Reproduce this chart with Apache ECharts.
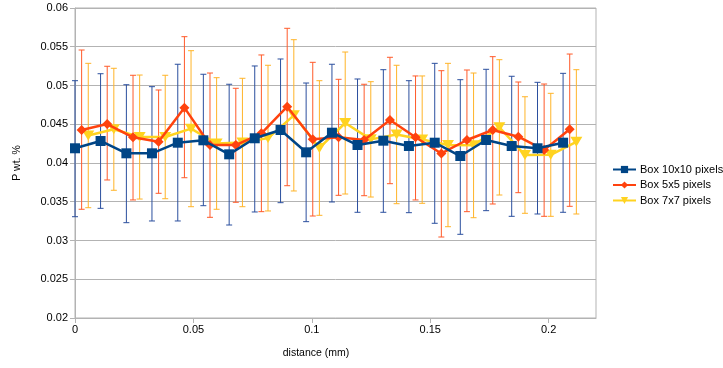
<!DOCTYPE html>
<html>
<head>
<meta charset="utf-8">
<script src="https://cdn.jsdelivr.net/npm/echarts@6/dist/echarts.min.js"></script>
<style>
html,body{margin:0;padding:0;background:#fff;}
#c{width:723px;height:368px;}
</style>
</head>
<body>
<div id="c"></div>
<script>
// ---- data ----
const seriesNames = ['Box 10x10 pixels', 'Box 5x5 pixels', 'Box 7x7 pixels'];

const xBlue   = [0, 0.0108, 0.0217, 0.0325, 0.0434, 0.0542, 0.0651, 0.0759, 0.0868, 0.0976, 0.1085, 0.1193, 0.1302, 0.1410, 0.1519, 0.1627, 0.1736, 0.1844, 0.1953, 0.2061];
const blueMean = [0.0419, 0.04284, 0.04125, 0.04125, 0.04262, 0.04293, 0.04112, 0.04319, 0.04426, 0.04138, 0.04391, 0.04232, 0.04288, 0.04219, 0.04262, 0.0409, 0.04297, 0.04219, 0.0419, 0.04262];
const blueHigh = [0.05062, 0.05152, 0.0501, 0.04985, 0.05274, 0.05145, 0.05016, 0.05252, 0.05342, 0.05032, 0.05274, 0.05084, 0.05204, 0.05062, 0.05286, 0.05075, 0.05209, 0.05119, 0.05041, 0.05157];
const blueLow  = [0.03307, 0.03415, 0.0323, 0.03252, 0.03252, 0.03449, 0.032, 0.03368, 0.03488, 0.03243, 0.03497, 0.03364, 0.03364, 0.03359, 0.03222, 0.0308, 0.03385, 0.03312, 0.03342, 0.03364];

const xRed    = [0.0028, 0.0136, 0.0245, 0.0353, 0.0462, 0.0570, 0.0679, 0.0787, 0.0896, 0.1004, 0.1113, 0.1221, 0.1330, 0.1438, 0.1547, 0.1655, 0.1764, 0.1872, 0.1981, 0.2089];
const redMean = [0.04426, 0.04503, 0.04332, 0.04275, 0.04714, 0.04232, 0.04232, 0.04383, 0.04726, 0.04306, 0.04332, 0.04297, 0.04555, 0.04332, 0.04123, 0.04297, 0.04426, 0.04339, 0.04168, 0.04435];
const redHigh = [0.05458, 0.05248, 0.05132, 0.04942, 0.0563, 0.05161, 0.04964, 0.05394, 0.05738, 0.05299, 0.0508, 0.05016, 0.05364, 0.05123, 0.05191, 0.052, 0.05372, 0.05045, 0.05019, 0.05406];
const redLow  = [0.03403, 0.03781, 0.03523, 0.03609, 0.0381, 0.03299, 0.03493, 0.03372, 0.03707, 0.03316, 0.03583, 0.03578, 0.03733, 0.03523, 0.03045, 0.03372, 0.03471, 0.03617, 0.03312, 0.03441];

const xYellow    = [0.0056, 0.0164, 0.0273, 0.0381, 0.0490, 0.0598, 0.0707, 0.0815, 0.0924, 0.1032, 0.1141, 0.1249, 0.1358, 0.1466, 0.1575, 0.1683, 0.1792, 0.1900, 0.2009, 0.2117];
const yellowMean = [0.04355, 0.04435, 0.04335, 0.04336, 0.04443, 0.04252, 0.04265, 0.04321, 0.04615, 0.04194, 0.04516, 0.04305, 0.04368, 0.04302, 0.04232, 0.04228, 0.0446, 0.04103, 0.04106, 0.04273];
const yellowHigh = [0.05286, 0.05222, 0.05135, 0.05132, 0.05449, 0.05101, 0.05093, 0.05261, 0.05591, 0.05062, 0.05432, 0.05049, 0.05261, 0.05123, 0.05286, 0.05161, 0.05333, 0.04855, 0.04899, 0.05204];
const yellowLow  = [0.03423, 0.03648, 0.03535, 0.03539, 0.03436, 0.03403, 0.03436, 0.03381, 0.03639, 0.03325, 0.036, 0.03561, 0.03475, 0.0348, 0.03178, 0.03294, 0.03587, 0.03351, 0.03312, 0.03342];

const yTicks = { min: 0.02, max: 0.06, step: 0.005 };
const xTicks = { min: 0, max: 0.22, step: 0.05 };

// ---- chart ----
const FONT = '"Liberation Sans", Arial, sans-serif';
const colors = ['#004586', '#ff420e', '#ffd320'];
const barColors = ['#2b4f9e', '#ff5a2a', '#ffb428'];

function zip2(xs, ys) { return xs.map((x, i) => [x, ys[i]]); }
function zip3(xs, lo, hi) { return xs.map((x, i) => [x, lo[i], hi[i]]); }

function errRender(color) {
  return function (params, api) {
    const x = api.value(0), lo = api.value(1), hi = api.value(2);
    const a = api.coord([x, hi]), b = api.coord([x, lo]);
    const w = 3;
    const st = { stroke: color, lineWidth: 1 };
    return {
      type: 'group',
      children: [
        { type: 'line', shape: { x1: a[0], y1: a[1], x2: b[0], y2: b[1] }, style: st },
        { type: 'line', shape: { x1: a[0] - w, y1: a[1], x2: a[0] + w, y2: a[1] }, style: st },
        { type: 'line', shape: { x1: b[0] - w, y1: b[1], x2: b[0] + w, y2: b[1] }, style: st }
      ]
    };
  };
}

const chart = echarts.init(document.getElementById('c'), null, { renderer: 'canvas' });

const lineData = [zip2(xBlue, blueMean), zip2(xRed, redMean), zip2(xYellow, yellowMean)];
const errData = [zip3(xBlue, blueLow, blueHigh), zip3(xRed, redLow, redHigh), zip3(xYellow, yellowLow, yellowHigh)];
const symbols = ['rect', 'diamond', 'triangle'];
const symSizes = [10, 10, [12, 10]];
const symRot = [0, 0, 180];

const series = [];
for (let i = 0; i < 3; i++) {
  series.push({
    type: 'custom',
    name: seriesNames[i] + ' err',
    renderItem: errRender(barColors[i]),
    data: errData[i],
    encode: { x: 0, y: [1, 2] },
    z: 1,
    silent: true
  });
}
for (let i = 0; i < 3; i++) {
  series.push({
    type: 'line',
    name: seriesNames[i],
    data: lineData[i],
    symbol: symbols[i],
    symbolSize: symSizes[i],
    symbolRotate: symRot[i],
    showAllSymbol: true,
    lineStyle: { color: colors[i], width: 2.5 },
    itemStyle: { color: colors[i] },
    z: 3 + (2 - i)
  });
}

chart.setOption({
  animation: false,
  backgroundColor: '#fff',
  color: colors,
  grid: { left: 75, right: 127, top: 8, bottom: 50, show: true, borderColor: '#b3b3b3', borderWidth: 1 },
  xAxis: {
    type: 'value',
    min: xTicks.min, max: xTicks.max, interval: xTicks.step,
    axisLine: { show: true, lineStyle: { color: '#b3b3b3', width: 1 } },
    axisTick: { show: true, length: 5, lineStyle: { color: '#b3b3b3' } },
    axisLabel: { color: '#000', fontFamily: FONT, fontSize: 11, margin: 6, showMaxLabel: false },
    splitLine: { show: false }
  },
  yAxis: {
    type: 'value',
    min: yTicks.min, max: yTicks.max, interval: yTicks.step,
    axisLine: { show: true, lineStyle: { color: '#b3b3b3', width: 1 } },
    axisTick: { show: true, length: 5, lineStyle: { color: '#b3b3b3' } },
    axisLabel: { color: '#000', fontFamily: FONT, fontSize: 11, margin: 7 },
    splitLine: { show: true, lineStyle: { color: '#b3b3b3', width: 1 } }
  },
  legend: {
    orient: 'vertical',
    left: 612, top: 164, padding: 0,
    data: seriesNames,
    itemWidth: 23, itemHeight: 9, itemGap: 4.5,
    textStyle: { color: '#000', fontFamily: FONT, fontSize: 11, padding: [0, 0, 0, -1] }
  },
  graphic: [
    { type: 'text', x: 316, y: 353, style: { text: 'distance (mm)', fill: '#000', font: '10.5px ' + FONT, align: 'center', verticalAlign: 'middle' } },
    { type: 'text', x: 17, y: 163, rotation: Math.PI / 2, style: { text: 'P wt. %', fill: '#000', font: '10.5px ' + FONT, align: 'center', verticalAlign: 'middle' } }
  ],
  series: series
});
</script>
</body>
</html>
